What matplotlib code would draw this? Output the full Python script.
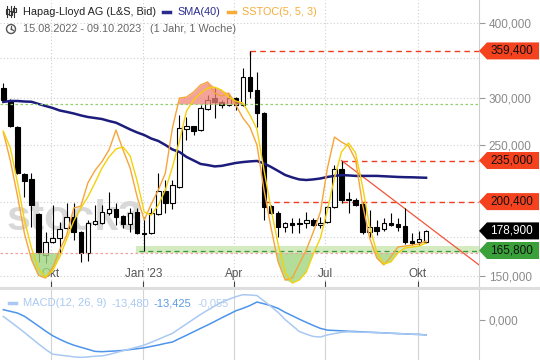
import numpy as np
import matplotlib
matplotlib.use('Agg')
import matplotlib.pyplot as plt
import matplotlib.dates as mdates
from matplotlib.patches import Polygon, Circle, Rectangle
from matplotlib.lines import Line2D
from matplotlib.ticker import NullLocator
import matplotlib.transforms as mtransforms

plt.rcParams['font.family'] = ['Liberation Sans', 'DejaVu Sans']

# weekly candles, 15.08.2022 - 09.10.2023
first_week = np.datetime64('2022-08-15')
n_weeks = 61

opens = [311.3, 296.0, 268.0, 223.1, 218.8, 191.0, 162.9, 171.4, 174.1, 180.9,
         188.8, 178.1, 164.2, 183.8, 184.5, 191.8, 194.8, 189.6, 183.8, 192.5,
         177.5, 177.5, 191.0, 208.8, 199.3, 212.1, 265.5, 268.6, 264.5, 286.9,
         299.4, 294.9, 291.4, 299.4, 291.4, 324.9, 308.9, 282.5, 197.0, 191.8,
         181.6, 184.5, 184.5, 184.5, 186.6, 183.1, 185.2, 196.3, 227.4, 201.7,
         201.7, 198.6, 178.1, 181.6, 180.2, 184.5, 183.8, 182.3, 172.0, 171.4,
         171.4]
highs = [317.4, 298.3, 269.0, 223.5, 223.9, 191.5, 178.1, 197.8, 185.2, 199.3,
         199.3, 178.5, 186.6, 197.8, 197.8, 208.0, 199.3, 190.0, 195.5, 195.5,
         188.8, 195.5, 223.9, 217.9, 217.9, 280.4, 278.2, 269.0, 291.4, 302.9,
         311.3, 297.1, 304.0, 300.5, 336.4, 359.4, 331.2, 283.5, 197.8, 193.3,
         185.2, 188.1, 188.1, 192.5, 188.1, 188.8, 196.8, 230.9, 235.0, 208.0,
         203.5, 199.0, 194.0, 186.6, 188.1, 191.8, 188.1, 195.5, 177.5, 178.8,
         179.5]
lows = [296.5, 267.6, 223.0, 204.0, 181.6, 158.6, 158.0, 170.7, 164.2, 180.2,
        172.7, 158.6, 159.2, 183.1, 184.0, 190.3, 183.1, 180.9, 178.1, 177.0,
        165.8, 177.0, 190.5, 191.8, 195.0, 211.0, 254.5, 259.4, 263.5, 286.0,
        277.1, 288.1, 290.5, 285.7, 290.0, 299.4, 267.6, 186.6, 191.0, 174.7,
        178.1, 177.5, 177.5, 180.9, 182.5, 180.9, 184.8, 195.5, 199.3, 191.8,
        197.0, 176.8, 174.7, 176.1, 178.8, 182.5, 178.8, 170.1, 169.4, 169.4,
        171.0]
closes = [297.1, 268.6, 223.9, 217.1, 197.8, 164.2, 171.4, 174.1, 180.2, 188.8,
          178.1, 164.2, 184.5, 185.9, 192.5, 194.8, 188.8, 183.8, 191.8, 177.5,
          176.8, 191.8, 208.8, 199.3, 213.7, 266.6, 268.6, 263.5, 288.1, 297.1,
          294.9, 291.4, 299.4, 291.4, 324.9, 307.7, 282.5, 196.3, 191.8, 181.6,
          184.5, 183.1, 184.0, 186.6, 183.1, 184.5, 196.3, 227.4, 201.7, 202.5,
          197.8, 178.1, 181.6, 178.8, 184.5, 183.1, 181.6, 171.4, 170.7, 173.4,
          178.9]

sma40 = [294.9, 296.0, 296.0, 295.4, 295.1, 292.6, 290.3, 288.1, 285.3, 283.7,
         282.0, 279.9, 278.2, 277.1, 276.0, 273.9, 272.1, 268.6, 265.1, 262.0,
         259.4, 255.9, 253.5, 249.6, 245.3, 242.9, 238.3, 235.1, 231.9, 230.9,
         229.7, 230.2, 231.5, 232.8, 233.6, 234.2, 234.6, 232.4, 229.2, 225.7,
         222.2, 220.1, 218.4, 217.9, 218.4, 219.2, 220.5, 221.4, 222.1, 221.8,
         221.4, 221.4, 221.4, 221.4, 221.1, 220.8, 220.5, 220.3, 220.2, 220.0,
         219.8]

stoch_k = [68.7, 57.2, 43.2, 27.9, 17.3, 11.0, 9.9, 14.0, 21.2, 27.2,
           38.1, 38.9, 48.2, 53.2, 56.8, 61.5, 69.5, 61.5, 54.2, 42.6,
           33.3, 39.7, 45.4, 52.2, 70.3, 82.4, 82.8, 84.8, 87.7, 88.9,
           84.4, 83.2, 84.4, 79.6, 74.4, 70.7, 63.5, 45.4, 30.1, 16.4,
           9.1, 9.9, 15.6, 21.2, 28.5, 36.5, 54.2, 66.7, 64.7, 63.1,
           57.5, 39.3, 26.0, 18.0, 15.2, 18.4, 22.4, 22.8, 23.2, 23.6,
           24.8]
stoch_d = [69.1, 62.3, 48.6, 33.3, 22.0, 13.6, 10.3, 12.8, 18.4, 25.6,
           32.9, 38.1, 42.6, 48.2, 54.2, 58.7, 61.9, 62.7, 59.1, 49.0,
           36.5, 35.3, 39.3, 45.4, 54.6, 65.1, 77.2, 81.6, 84.4, 86.4,
           86.8, 85.6, 82.8, 81.2, 80.4, 75.6, 69.9, 53.4, 37.7, 23.6,
           12.3, 7.9, 9.1, 12.3, 19.6, 26.0, 37.3, 50.2, 60.7, 64.3,
           60.3, 46.6, 30.5, 20.4, 15.6, 16.4, 20.0, 22.0, 22.4, 22.8,
           24.0]

macd = [3.2, -1.5, -6.3, -11.2, -16.4, -21.5, -26.4, -30.7, -31.5, -32.3,
        -33.1, -33.6, -33.2, -32.5, -32.3, -31.0, -29.3, -27.6, -26.0, -24.3,
        -22.5, -20.0, -17.4, -14.6, -12.0, -7.7, -3.5, 0.8, 5.0, 8.8,
        12.6, 16.1, 18.6, 21.0, 22.8, 22.5, 22.0, 17.1, 12.1, 6.9,
        0.4, -4.9, -10.3, -12.7, -14.8, -15.3, -13.4, -12.2, -11.0, -10.6,
        -10.8, -11.0, -11.1, -11.3, -11.6, -11.9, -12.1, -12.5, -12.8, -13.1,
        -13.48]
macd_signal = [9.3, 7.8, 6.3, 3.4, -1.0, -5.4, -9.9, -14.1, -17.3, -20.2,
               -22.6, -24.5, -26.3, -28.2, -28.5, -28.1, -27.8, -27.3, -26.6, -25.8,
               -25.0, -23.7, -22.5, -21.0, -19.8, -16.7, -13.7, -10.6, -7.5, -4.5,
               -1.3, 2.0, 5.1, 8.3, 10.5, 13.0, 16.2, 14.6, 12.8, 10.5,
               6.9, 3.9, 0.8, -2.1, -4.9, -7.5, -9.1, -9.4, -9.7, -10.1,
               -10.3, -10.7, -11.0, -11.3, -11.5, -11.9, -12.2, -12.4, -12.8, -12.9,
               -13.425]

# marked levels and the candle each line starts at
resist_levels = [359.4, 235.0, 200.4]
resist_from = [35, 48, 37]
last_close = 178.9
low_52w = 165.8
trend_end_price = 156.8

quarter_dates = ['2022-10-01', '2023-01-01', '2023-04-01', '2023-07-01', '2023-10-01']
quarter_labels = ['Okt', "Jan '23", 'Apr', 'Jul', 'Okt']

dates = first_week + np.arange(n_weeks) * np.timedelta64(7, 'D')
x = mdates.date2num(dates)
xl = mdates.date2num(np.datetime64('2022-08-11T17:30'))
xr = mdates.date2num(np.datetime64('2023-11-30T14:00'))
qx = mdates.date2num(np.array(quarter_dates, dtype='datetime64[D]'))

o = np.array(opens); h = np.array(highs); l = np.array(lows); c = np.array(closes)

fig = plt.figure(figsize=(5.4, 3.6), dpi=100)
fig.patch.set_facecolor('white')
ax = fig.add_axes([0, 73 / 360, 479 / 540, 287 / 360])
mac = fig.add_axes([0, 0, 479 / 540, 71 / 360])

ax.set_yscale('log')
ax.set_ylim(143.93, 437.8)
ax.set_xlim(xl, xr)
for s in ['top', 'left', 'bottom']:
    ax.spines[s].set_visible(False)
ax.spines['right'].set_color('#cfcfcf')

# grid
for g in [400, 350, 300, 250, 200, 175, 150]:
    ax.axhline(g, color='#cfcfcf', lw=0.8, ls=(0, (1, 2)), zorder=0)
for q in qx:
    ax.axvline(q, color='#cfcfcf', lw=0.8, ls=(0, (1, 2)), zorder=0)

ax.set_xticks(qx)
ax.tick_params(axis='x', direction='in', length=4, color='#444444', labelbottom=False)
trans = mtransforms.blended_transform_factory(ax.transData, ax.transAxes)
for q, lab in zip(qx, quarter_labels):
    ax.text(q, 13 / 287, lab, transform=trans, ha='center', va='center',
            fontsize=8.5, color='#555555')

# watermark
ax.text(0.013, 57 / 287, 'stock3', transform=ax.transAxes, fontsize=31,
        fontweight='bold', color='#d8d8d8', zorder=1)

# 52 week low band
band_x0 = x[19] - 1
ax.fill_between([band_x0, xr], 164.3, 168.7, color='#d3ebbf', lw=0, zorder=1)
ax.hlines(low_52w, band_x0 + 3, xr, color='#3a9a3a', lw=0.9, ls=(0, (4, 3)), zorder=2)

# resistance lines
for lvl, i0 in zip(resist_levels, resist_from):
    ax.hlines(lvl, x[i0], xr, color='#f03c20', lw=1.0, ls=(0, (4, 3)), zorder=2)
    ax.vlines(x[i0], lvl * 0.985, lvl, color='#f03c20', lw=1.0, zorder=2)

# trend line
ax.plot([x[48], xr], [highs[48], trend_end_price], color='#f2553a', lw=0.9, zorder=3)

# candles
ax.vlines(x, l, h, color='black', lw=0.8, zorder=3)
up = c >= o
body_bottom = np.minimum(o, c)
body_h = np.maximum(np.abs(c - o), 0.4)
ax.bar(x, body_h, bottom=body_bottom, width=4.5,
       color=np.where(up, 'white', 'black'), edgecolor='black', linewidth=0.8, zorder=4)

ax.plot(x, sma40, color='#1c1c7c', lw=1.8, zorder=5)

# slow stochastic overlay
st = ax.twinx()
st.set_ylim(6.31, 121.9)
st.set_xlim(xl, xr)
st.axis('off')
k = np.array(stoch_k); d = np.array(stoch_d)
st.axhline(80, color='#8fd16a', lw=0.9, ls=(0, (2, 2)))
st.axhline(20, color='#f4a0a0', lw=0.9, ls=(0, (2, 2)))
upper = np.maximum(k, d)
lower = np.minimum(k, d)
st.fill_between(x, 80, upper, where=upper > 80, interpolate=True,
                color='#f08478', alpha=0.75, lw=0)
st.fill_between(x, 20, lower, where=lower < 20, interpolate=True,
                color='#9fd680', alpha=0.8, lw=0)
st.plot(x, k, color='#f7a53a', lw=1.0)
st.plot(x, d, color='#f4d20a', lw=1.0)

# price axis on the right (after twinx, which moves it left)
ax.yaxis.tick_right()
ax.yaxis.set_label_position('right')
ax.set_yticks([150, 250, 300, 400])
ax.set_yticklabels(['150,000', '250,000', '300,000', '400,000'])
ax.yaxis.set_minor_locator(NullLocator())
ax.tick_params(axis='y', which='both', left=False, labelleft=False, right=True,
               labelright=True, length=4, color='#999999', labelcolor='#8a8a8a',
               labelsize=8.5, pad=3)

# MACD panel
mac.set_xlim(xl, xr)
mac.set_ylim(-35.95, 27.9)
for s in ['top', 'left', 'bottom']:
    mac.spines[s].set_visible(False)
mac.spines['right'].set_color('#cfcfcf')
for q in qx:
    mac.axvline(q, color='#d4d4d4', lw=0.8, zorder=0)
mac.set_xticks([])
mac.yaxis.tick_right()
mac.set_yticks([0])
mac.set_yticklabels(['0,000'])
mac.tick_params(axis='y', length=4, color='#999999', labelcolor='#8a8a8a',
                labelsize=8.5, pad=3)
mac.plot(x, macd_signal, color='#4d94ea', lw=1.1)
mac.plot(x, macd, color='#a9c9f2', lw=1.1)

fig.add_artist(Line2D([0, 1], [1 - 287.5 / 360] * 2, color='#dedede', lw=2.2))

# header legend
px = fig.dpi_scale_trans
def P(xp, yp):
    return xp / 100, (360 - yp) / 100

for xi, (y0, y1), (b0, b1) in [(7, (6, 17), (9, 14)), (10.5, (6, 17), (11, 15)), (14, (6, 17), (8, 12))]:
    fig.add_artist(Line2D([xi / 100] * 2, [P(0, y0)[1], P(0, y1)[1]], transform=px, color='#333', lw=0.8))
    fig.add_artist(Rectangle(P(xi - 1.5, b1), 0.03, (b1 - b0) / 100, transform=px,
                             facecolor='white', edgecolor='#333', lw=0.8))
fig.text(23 / 540, 1 - 12 / 360, 'Hapag-Lloyd AG (L&S, Bid)', fontsize=7.8, color='#222222', va='center')
fig.add_artist(Line2D([163 / 540, 170 / 540], [1 - 12 / 360] * 2, color='#2b2b8f', lw=2.5))
fig.text(177 / 540, 1 - 12 / 360, 'SMA(40)', fontsize=7.8, color='#2b2b8f', va='center')
fig.add_artist(Line2D([228 / 540, 235 / 540], [1 - 12 / 360] * 2, color='#f7ac3a', lw=2.5))
fig.text(242 / 540, 1 - 12 / 360, 'SSTOC(5, 5, 3)', fontsize=7.8, color='#f7ac3a', va='center')

fig.add_artist(Circle(P(11, 29), 0.045, transform=px, fill=False, edgecolor='#555', lw=1.0))
fig.add_artist(Line2D([0.11, 0.11], [P(0, 29)[1], P(0, 25.5)[1]], transform=px, color='#555', lw=0.9))
fig.add_artist(Line2D([0.11, 0.135], [P(0, 29)[1], P(0, 30.5)[1]], transform=px, color='#555', lw=0.9))
fig.text(23 / 540, 1 - 29 / 360, '15.08.2022 - 09.10.2023', fontsize=7.8, color='#666666', va='center')
fig.text(150 / 540, 1 - 29 / 360, '(1 Jahr, 1 Woche)', fontsize=7.8, color='#666666', va='center')

# MACD legend
my = 1 - 303 / 360
fig.add_artist(Line2D([9 / 540, 16 / 540], [my] * 2, color='#a9c9f2', lw=2.5))
for xt, txt, col in [(23, 'MACD(12, 26, 9)', '#a9c9f2'), (111, '-13,480', '#a9c9f2'),
                     (153, '-13,425', '#5a9ae8'), (197, '-0,055', '#b5cff0')]:
    fig.text(xt / 540, my, txt, fontsize=8, color=col, va='center')

# price tags on the right
def price_tag(price, face, txtcol):
    yd = ax.transData.transform((xr, price))[1]
    yf = yd / fig.bbox.height
    hh = 8.5 / 360
    x0, xt, x1 = 479 / 540, 487 / 540, 539 / 540
    fig.add_artist(Polygon([(x0, yf), (xt, yf + hh), (x1, yf + hh), (x1, yf - hh), (xt, yf - hh)],
                           closed=True, transform=fig.transFigure, facecolor=face, edgecolor='none'))
    fig.text(511.5 / 540, yf, f'{price:.3f}'.replace('.', ','), fontsize=8.5,
             color=txtcol, ha='center', va='center')

for lvl in resist_levels:
    price_tag(lvl, '#f5421e', '#111111')
price_tag(last_close, '#000000', '#ffffff')
price_tag(low_52w, '#3aa13a', '#111111')

fig.savefig('out.png', dpi=100)
